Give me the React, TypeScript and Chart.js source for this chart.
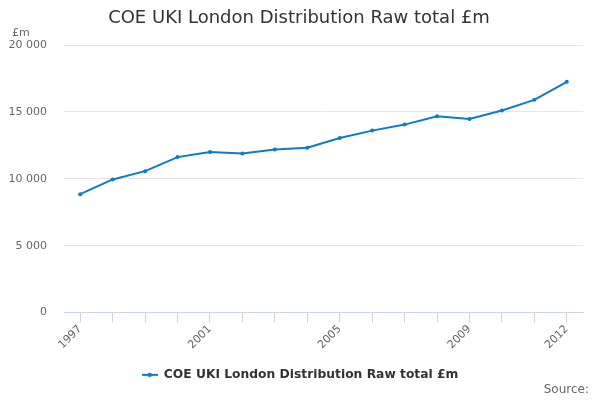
import { useEffect, useRef } from 'react';
import { Chart, registerables } from 'chart.js';

Chart.register(...registerables);

const years = ['1997', '1998', '1999', '2000', '2001', '2002', '2003', '2004', '2005', '2006', '2007', '2008', '2009', '2010', '2011', '2012'];
const rawTotal = [8850, 9950, 10570, 11620, 12000, 11890, 12180, 12320, 13050, 13600, 14050, 14670, 14470, 15110, 15900, 17250];
const shownYears = ['1997', '2001', '2005', '2009', '2012'];
const seriesName = 'COE UKI London Distribution Raw total £m';

const FONT = '"DejaVu Sans", sans-serif';
const LINE = '#0b7cc6';
const RIGHT_PAD = 17;

function legendSymbol() {
  const c = document.createElement('canvas');
  c.width = 16;
  c.height = 6;
  const ctx = c.getContext('2d');
  if (ctx) {
    ctx.strokeStyle = LINE;
    ctx.lineWidth = 2;
    ctx.beginPath();
    ctx.moveTo(0, 3);
    ctx.lineTo(16, 3);
    ctx.stroke();
    ctx.fillStyle = LINE;
    ctx.beginPath();
    ctx.arc(8, 3, 2.2, 0, Math.PI * 2);
    ctx.fill();
  }
  return c;
}

// title, unit label and source line drawn by hand so the title stays centred on the page
const extraText = {
  id: 'extraText',
  afterLayout(chart: Chart) {
    // centre the legend on the whole canvas, not on the padded area
    const legend = chart.legend;
    if (legend) {
      legend.left += RIGHT_PAD / 2;
      legend.right += RIGHT_PAD / 2;
    }
  },
  afterDraw(chart: Chart) {
    const { ctx, chartArea } = chart;
    ctx.save();
    ctx.textBaseline = 'middle';
    ctx.font = `18px ${FONT}`;
    ctx.fillStyle = '#333333';
    ctx.textAlign = 'center';
    ctx.fillText(seriesName, chart.width / 2 - 1, 18);
    ctx.font = `11px ${FONT}`;
    ctx.fillStyle = '#666666';
    ctx.textAlign = 'left';
    ctx.fillText('£m', 12, chartArea.top - 12);
    ctx.font = `12px ${FONT}`;
    ctx.textAlign = 'right';
    ctx.fillText('Source:', chart.width - 11, chart.height - 10);
    ctx.restore();
  },
};

export default function App() {
  const chartRef = useRef<HTMLCanvasElement>(null);
  const chartInstance = useRef<Chart | null>(null);

  useEffect(() => {
    document.body.style.margin = '0';
    if (!chartRef.current) return;
    const ctx = chartRef.current.getContext('2d');
    if (!ctx) return;

    if (chartInstance.current) {
      chartInstance.current.destroy();
    }

    chartInstance.current = new Chart(ctx, {
      type: 'line',
      data: {
        labels: years,
        datasets: [
          {
            label: seriesName,
            data: rawTotal,
            borderColor: LINE,
            backgroundColor: LINE,
            borderWidth: 2,
            pointRadius: 2,
            pointBorderWidth: 0,
            pointHoverRadius: 2,
            tension: 0,
          },
        ],
      },
      options: {
        animation: false,
        responsive: false,
        layout: {
          padding: { left: 0, right: RIGHT_PAD, top: 45, bottom: 9 },
        },
        plugins: {
          title: { display: false },
          legend: {
            position: 'bottom',
            labels: {
              color: '#333333',
              font: { family: FONT, size: 12.3, weight: 'bold' },
              usePointStyle: true,
              pointStyle: legendSymbol(),
              pointStyleWidth: 16,
              padding: 17,
            },
          },
          tooltip: { enabled: false },
        },
        scales: {
          x: {
            offset: true,
            grid: {
              offset: false,
              drawOnChartArea: false,
              drawTicks: true,
              tickLength: 10,
              color: '#ccd6eb',
            },
            border: { display: true, color: '#ccd6eb' },
            ticks: {
              autoSkip: false,
              maxRotation: 45,
              minRotation: 45,
              padding: 0,
              color: '#666666',
              font: { family: FONT, size: 11 },
              callback: (_v, i) => (shownYears.includes(years[i]) ? years[i] : ''),
            },
          },
          y: {
            min: 0,
            max: 20000,
            afterFit: (scale) => {
              scale.width = 64;
            },
            grid: { color: '#e6e6e6', drawTicks: false },
            border: { display: false },
            ticks: {
              stepSize: 5000,
              padding: 17,
              color: '#666666',
              font: { family: FONT, size: 11 },
              callback: (v) => String(v).replace(/\B(?=(\d{3})+(?!\d))/g, ' '),
            },
          },
        },
      },
      plugins: [extraText],
    });

    return () => {
      if (chartInstance.current) {
        chartInstance.current.destroy();
        chartInstance.current = null;
      }
    };
  }, []);

  return (
    <div style={{ width: 600, height: 400 }}>
      <canvas ref={chartRef} width={600} height={400} />
    </div>
  );
}
